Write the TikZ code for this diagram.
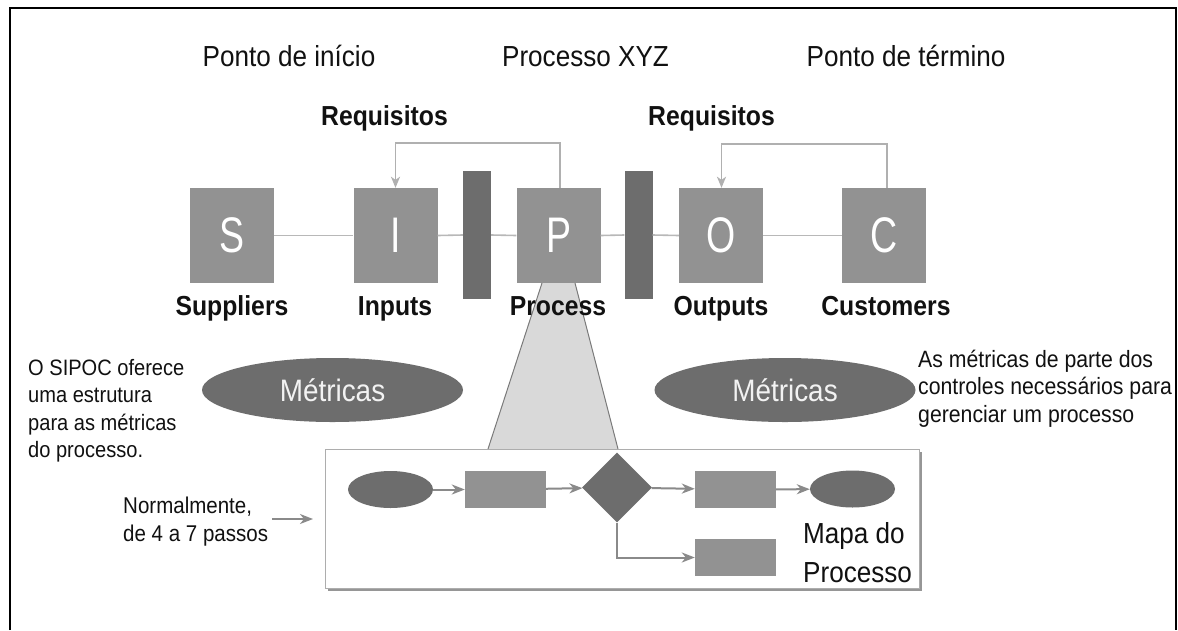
\documentclass[tikz,border=0pt]{standalone}
\usepackage{fontspec}
\setmainfont{Liberation Sans}[FakeStretch=0.9]
\newfontfamily\letterfont{Liberation Sans}[FakeStretch=0.75]
\usetikzlibrary{shapes.geometric,arrows.meta}
\definecolor{boxgray}{HTML}{929292}
\definecolor{darkgray}{HTML}{6D6D6D}
\definecolor{linegray}{HTML}{B8B8B8}
\definecolor{arrgray}{HTML}{8A8A8A}
\definecolor{trapfill}{HTML}{D9D9D9}
\definecolor{trapedge}{HTML}{7A7A7A}
\definecolor{txt}{HTML}{111111}
\tikzset{
  letterbox/.style={fill=boxgray, minimum width=84pt, minimum height=95pt, inner sep=0pt,
    text=white, font=\letterfont\fontsize{50}{50}\selectfont},
  barbox/.style={fill=darkgray, minimum width=28pt, minimum height=128pt, inner sep=0pt},
  hline/.style={draw=linegray, line width=1.6pt},
  reqline/.style={draw=linegray!85!gray, line width=1.6pt, -{Stealth[length=11pt,width=9pt,inset=3pt]}},
  maparrow/.style={draw=arrgray, line width=2pt, -{Stealth[length=13pt,width=10pt,inset=4pt]}},
  header/.style={anchor=base, inner sep=0pt, text=txt, font=\fontsize{29}{29}\selectfont},
  boldlabel/.style={anchor=base, inner sep=0pt, text=txt, font=\bfseries\fontsize{27.5}{27.5}\selectfont},
  metric/.style={ellipse, fill=darkgray, minimum width=261pt, minimum height=64pt, inner sep=0pt,
    text=white!90!gray, font=\fontsize{31}{31}\selectfont},
  mapbox/.style={fill=boxgray, minimum width=81pt, minimum height=37pt, inner sep=0pt},
  mapell/.style={ellipse, fill=darkgray, minimum width=85pt, minimum height=37pt, inner sep=0pt},
  para/.style={anchor=base west, inner sep=0pt, align=left, text=txt},
}
\begin{document}
\begin{tikzpicture}[x=1pt,y=-1pt]
\useasboundingbox (0,0) rectangle (1178,630);
\fill[white] (0,0) rectangle (1178,630);
% frame
\draw[line width=2.5pt] (10,630) -- (10,8) -- (1176,8) -- (1176,630);

% headers
\node[header] (h1) at (289,66) {Ponto de início};
\node[header] (h2) at (585.5,66) {Processo XYZ};
\node[header] (h3) at (906,66) {Ponto de término};
\node[boldlabel] (r1) at (384.5,125) {Requisitos};
\node[boldlabel] (r2) at (711.5,125) {Requisitos};

% trapezoid (behind)
\coordinate (t1) at (542,283);
\coordinate (t2) at (575,283);
\coordinate (t3) at (618,449);
\coordinate (t4) at (488,449);
\fill[trapfill] (t1) -- (t2) -- (t3) -- (t4) -- cycle;
\draw[trapedge, line width=1pt] (t1) -- (t4) (t2) -- (t3);

% SIPOC boxes
\node[letterbox] (S) at (232,235.5) {S};
\node[letterbox] (I) at (395.5,235.5) {I};
\node[barbox] (B1) at (477,235) {};
\node[letterbox] (P) at (558.5,235.5) {P};
\node[barbox] (B2) at (638.5,235) {};
\node[letterbox] (O) at (721,235.5) {O};
\node[letterbox] (C) at (884,235.5) {C};

\draw[hline] (S.east) -- (I.west);
\draw[hline] (I.east) -- (B1.west);
\draw[hline] (B1.east) -- (P.west);
\draw[hline] (P.east) -- (B2.west);
\draw[hline] (B2.east) -- (O.west);
\draw[hline] (O.east) -- (C.west);

% requisitos feedback
\draw[reqline] ([xshift=1.5pt]P.north) -- ++(0,-45) -| (I.north);
\draw[reqline] ([xshift=3pt]C.north) -- ++(0,-44) -| ([xshift=0.5pt]O.north);

% labels
\node[boldlabel] (lS) at (232,315) {Suppliers};
\node[boldlabel] (lI) at (395,315) {Inputs};
\node[boldlabel] (lP) at (558,315) {Process};
\node[boldlabel] (lO) at (721,315) {Outputs};
\node[boldlabel] (lC) at (886,315) {Customers};

% metric ellipses
\node[metric] (m1) at (332.5,390) {Métricas};
\node[metric] (m2) at (785,390) {Métricas};

% side texts (anchor = baseline of last line)
\node[para, font=\fontsize{22.3}{27.5}\selectfont] (lt) at (28,457.5)
  {O SIPOC oferece\\uma estrutura\\para as métricas\\do processo.};
\node[para, font=\fontsize{23.6}{27.5}\selectfont] (rt) at (918,422)
  {As métricas de parte dos\\controles necessários para\\gerenciar um processo};
\node[para, font=\fontsize{22.8}{28}\selectfont] (nt) at (123,541)
  {Normalmente,\\de 4 a 7 passos};

% process map box
\fill[arrgray!90] (328,452) rectangle (922,591);
\draw[fill=white, draw=linegray!80!gray, line width=1pt] (325,449) rectangle (919,588);
\coordinate (pm) at (325,519);
\coordinate (na) at (272,519);
\draw[maparrow] (na) -- ([xshift=-12pt]pm);

\node[mapell] (e1) at (390.5,489.5) {};
\node[mapbox] (b1) at (505.5,489.5) {};
\node[diamond, fill=darkgray, minimum width=70pt, minimum height=70pt, inner sep=0pt] (d) at (617,487.5) {};
\node[mapbox] (b2) at (735.5,489.5) {};
\node[mapell] (e2) at (852.5,489) {};
\node[mapbox] (b3) at (735.5,557.5) {};

\draw[maparrow] (e1) -- (b1);
\draw[maparrow] (b1) -- (d);
\draw[maparrow] (d) -- (b2);
\draw[maparrow] (b2) -- (e2);
\draw[maparrow] (d.south) |- (b3.west);

\node[para, font=\fontsize{29}{39}\selectfont] (mp) at (803,582) {Mapa do\\Processo};
\end{tikzpicture}
\end{document}
